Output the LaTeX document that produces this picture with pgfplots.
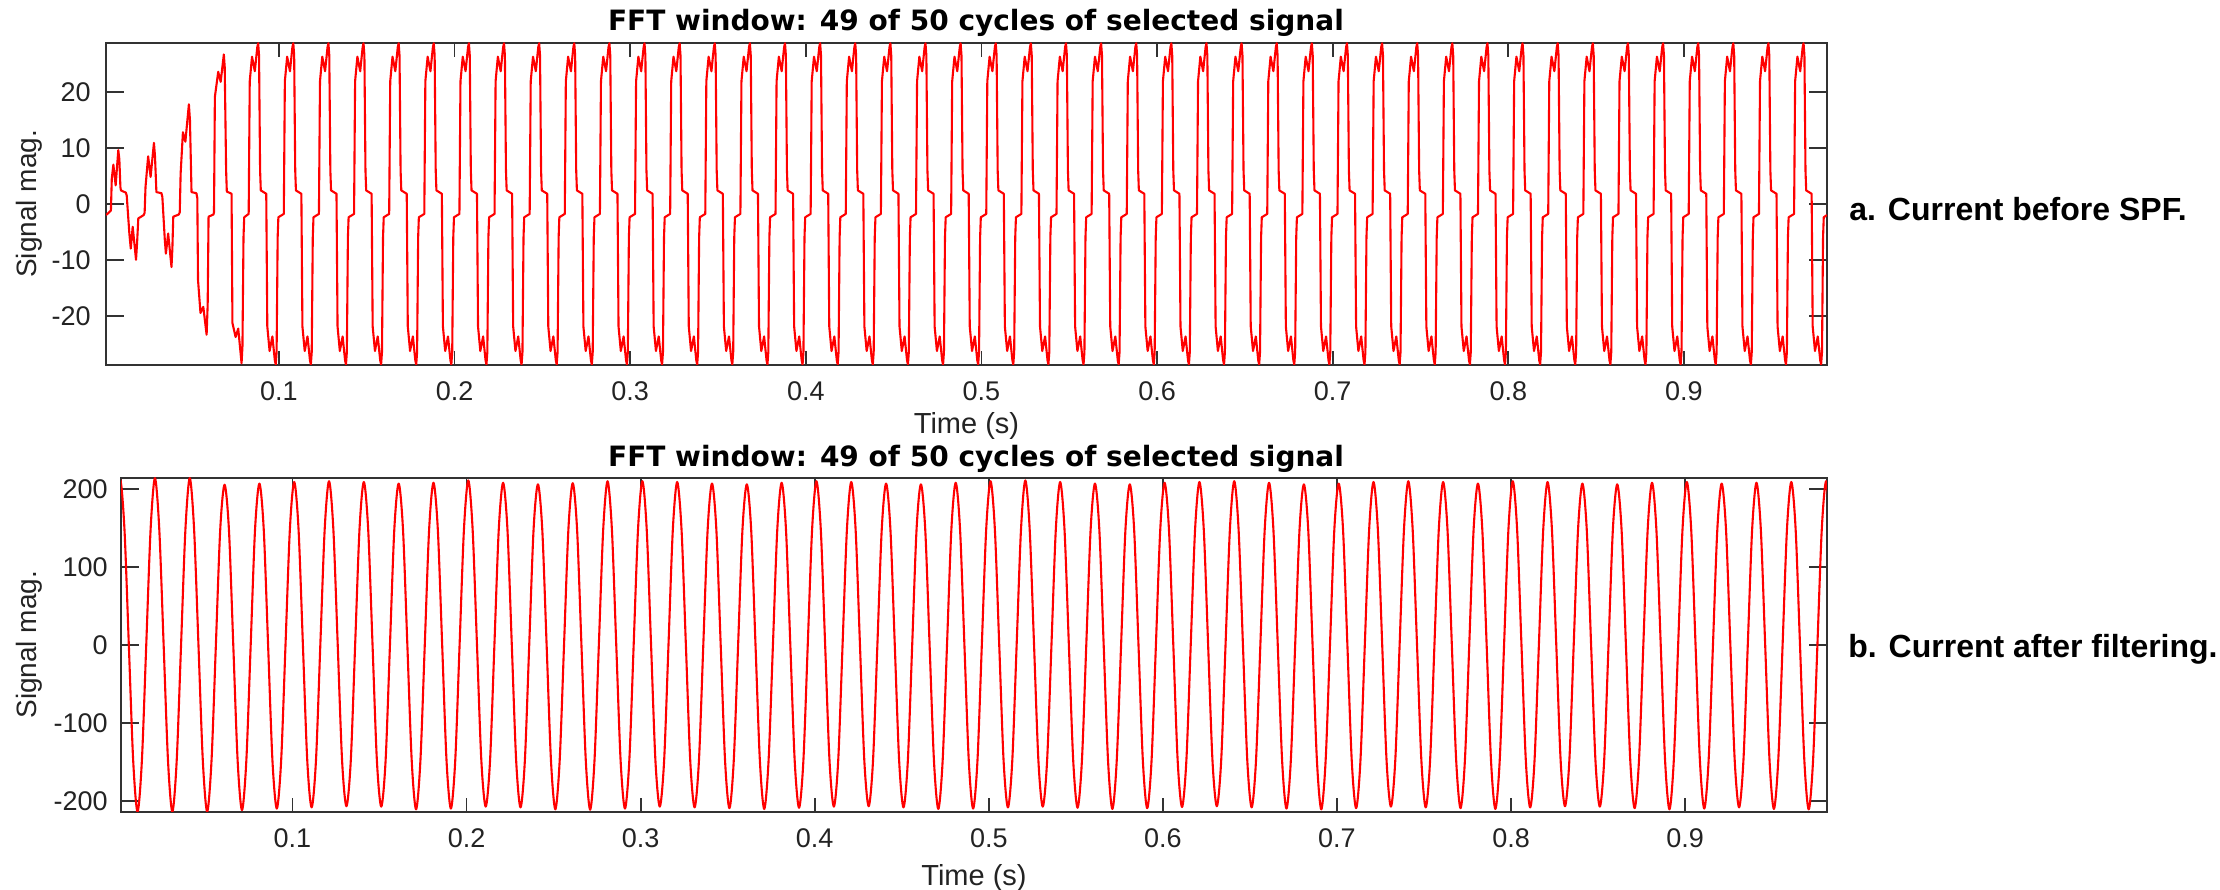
\documentclass[border=0pt]{standalone}
\usepackage{fontspec}
\setmainfont{Liberation Sans}
\newfontfamily\titlefont{DejaVu Sans}
\usepackage{pgfplots}
\pgfplotsset{compat=1.18}

\definecolor{axisgray}{RGB}{50,50,50}

\pgfplotsset{
  fftpanel/.style={
    scale only axis,
    anchor=south west,
    xmin=0.0015, xmax=0.9815,
    xtick={0.1,0.2,0.3,0.4,0.5,0.6,0.7,0.8,0.9},
    tick align=inside,
    tick pos=both,
    ticklabel pos=left,
    major tick length=9bp,
    xtick style={/pgfplots/major tick length=7bp},
    axis line style={draw=axisgray, line width=0.9bp},
    every tick/.style={draw=axisgray, line width=0.9bp},
    /pgf/number format/assume math mode=true,
    xticklabel style={font=\fontsize{13.5bp}{15bp}\selectfont, text=axisgray!70!black, anchor=base, yshift=-18bp},
    yticklabel style={font=\fontsize{13.5bp}{15bp}\selectfont, text=axisgray!70!black, anchor=east, inner sep=0pt},
    xlabel style={font=\fontsize{14.5bp}{16bp}\selectfont, text=axisgray!70!black},
    ylabel style={font=\fontsize{14bp}{16bp}\selectfont, text=axisgray!70!black},
    title style={font=\titlefont\bfseries\fontsize{14bp}{16bp}\selectfont, anchor=base},
    title={FFT window: 49 of 50 cycles of selected signal},
    xlabel={Time (s)},
    ylabel={Signal mag.},
  },
  sig/.style={red, line width=1.05bp, line join=round, mark=none},
}

\begin{document}
\begin{tikzpicture}
\useasboundingbox (0,0) rectangle (1110bp,445bp);

% ---- current before the filter ----
\begin{axis}[fftpanel,
  at={(53bp,262.5bp)}, width=860.5bp, height=161.15bp,
  ymin=-28.8, ymax=28.8,
  ytick={-20,-10,0,10,20},
  yticklabel style={xshift=-7.5bp},
  title style={at={(axis description cs:0.5055,1)}, yshift=0.35bp},
  xlabel style={at={(axis description cs:0.5,-0.189)}, anchor=center},
  ylabel style={at={(axis description cs:-0.0447,0.5)}, anchor=center},
]
\addplot[sig] coordinates {
(0.0015,-2.0)(0.0030,-1.6)(0.0043,-1.2)(0.0048,4.5)(0.0057,7.0)(0.0070,3.3)(0.0085,9.6)(0.0091,8.0)(0.0097,3.0)(0.0100,2.4)(0.0128,2.0)(0.0133,1.5)
(0.0148,-5.3)(0.0156,-8.0)(0.0167,-4.1)(0.0186,-10.0)(0.0192,-7.0)(0.0199,-2.6)(0.0230,-2.0)(0.0235,-1.6)
(0.0240,3.0)(0.0255,8.5)(0.0269,4.8)(0.0288,10.9)(0.0294,8.5)(0.0302,2.1)(0.0331,1.9)(0.0336,1.2)
(0.0350,-6.5)(0.0356,-8.9)(0.0369,-5.3)(0.0388,-11.3)(0.0393,-8.0)(0.0398,-2.3)(0.0430,-1.9)(0.0435,-1.5)
(0.0440,5.4)(0.0453,12.8)(0.0467,11.1)(0.0487,17.8)(0.0493,15.0)(0.0502,2.1)(0.0530,1.9)(0.0535,1.0)
(0.0539,-13.6)(0.0553,-19.5)(0.0569,-18.4)(0.0588,-23.4)(0.0594,-18.0)(0.0599,-2.3)(0.0627,-1.9)(0.0630,-1.5)
(0.0635,19.1)(0.0654,23.6)(0.0668,21.8)(0.0686,26.7)(0.0691,24.5)(0.0699,6.0)(0.0703,2.2)(0.0730,1.8)
(0.0735,-21.3)(0.0753,-23.8)(0.0768,-22.3)(0.0787,-28.5)(0.0792,-25.5)(0.0798,-6.0)(0.0802,-2.4)
(0.08275,-1.8)(0.08335,21.9)(0.08465,26.3)(0.08625,23.7)(0.08765,28)(0.08815,28.7)(0.08865,26.5)(0.08925,6)(0.08965,2.4)
(0.09275,1.8)(0.09335,-21.9)(0.09465,-26.3)(0.09625,-23.7)(0.09765,-28)(0.09815,-28.7)(0.09865,-26.5)(0.09925,-6)(0.09965,-2.4)
(0.10275,-1.8)(0.10335,21.9)(0.10465,26.3)(0.10625,23.7)(0.10765,28)(0.10815,28.7)(0.10865,26.5)(0.10925,6)(0.10965,2.4)
(0.11275,1.8)(0.11335,-21.9)(0.11465,-26.3)(0.11625,-23.7)(0.11765,-28)(0.11815,-28.7)(0.11865,-26.5)(0.11925,-6)(0.11965,-2.4)
(0.12275,-1.8)(0.12335,21.9)(0.12465,26.3)(0.12625,23.7)(0.12765,28)(0.12815,28.7)(0.12865,26.5)(0.12925,6)(0.12965,2.4)
(0.13275,1.8)(0.13335,-21.9)(0.13465,-26.3)(0.13625,-23.7)(0.13765,-28)(0.13815,-28.7)(0.13865,-26.5)(0.13925,-6)(0.13965,-2.4)
(0.14275,-1.8)(0.14335,21.9)(0.14465,26.3)(0.14625,23.7)(0.14765,28)(0.14815,28.7)(0.14865,26.5)(0.14925,6)(0.14965,2.4)
(0.15275,1.8)(0.15335,-21.9)(0.15465,-26.3)(0.15625,-23.7)(0.15765,-28)(0.15815,-28.7)(0.15865,-26.5)(0.15925,-6)(0.15965,-2.4)
(0.16275,-1.8)(0.16335,21.9)(0.16465,26.3)(0.16625,23.7)(0.16765,28)(0.16815,28.7)(0.16865,26.5)(0.16925,6)(0.16965,2.4)
(0.17275,1.8)(0.17335,-21.9)(0.17465,-26.3)(0.17625,-23.7)(0.17765,-28)(0.17815,-28.7)(0.17865,-26.5)(0.17925,-6)(0.17965,-2.4)
(0.18275,-1.8)(0.18335,21.9)(0.18465,26.3)(0.18625,23.7)(0.18765,28)(0.18815,28.7)(0.18865,26.5)(0.18925,6)(0.18965,2.4)
(0.19275,1.8)(0.19335,-21.9)(0.19465,-26.3)(0.19625,-23.7)(0.19765,-28)(0.19815,-28.7)(0.19865,-26.5)(0.19925,-6)(0.19965,-2.4)
(0.20275,-1.8)(0.20335,21.9)(0.20465,26.3)(0.20625,23.7)(0.20765,28)(0.20815,28.7)(0.20865,26.5)(0.20925,6)(0.20965,2.4)
(0.21275,1.8)(0.21335,-21.9)(0.21465,-26.3)(0.21625,-23.7)(0.21765,-28)(0.21815,-28.7)(0.21865,-26.5)(0.21925,-6)(0.21965,-2.4)
(0.22275,-1.8)(0.22335,21.9)(0.22465,26.3)(0.22625,23.7)(0.22765,28)(0.22815,28.7)(0.22865,26.5)(0.22925,6)(0.22965,2.4)
(0.23275,1.8)(0.23335,-21.9)(0.23465,-26.3)(0.23625,-23.7)(0.23765,-28)(0.23815,-28.7)(0.23865,-26.5)(0.23925,-6)(0.23965,-2.4)
(0.24275,-1.8)(0.24335,21.9)(0.24465,26.3)(0.24625,23.7)(0.24765,28)(0.24815,28.7)(0.24865,26.5)(0.24925,6)(0.24965,2.4)
(0.25275,1.8)(0.25335,-21.9)(0.25465,-26.3)(0.25625,-23.7)(0.25765,-28)(0.25815,-28.7)(0.25865,-26.5)(0.25925,-6)(0.25965,-2.4)
(0.26275,-1.8)(0.26335,21.9)(0.26465,26.3)(0.26625,23.7)(0.26765,28)(0.26815,28.7)(0.26865,26.5)(0.26925,6)(0.26965,2.4)
(0.27275,1.8)(0.27335,-21.9)(0.27465,-26.3)(0.27625,-23.7)(0.27765,-28)(0.27815,-28.7)(0.27865,-26.5)(0.27925,-6)(0.27965,-2.4)
(0.28275,-1.8)(0.28335,21.9)(0.28465,26.3)(0.28625,23.7)(0.28765,28)(0.28815,28.7)(0.28865,26.5)(0.28925,6)(0.28965,2.4)
(0.29275,1.8)(0.29335,-21.9)(0.29465,-26.3)(0.29625,-23.7)(0.29765,-28)(0.29815,-28.7)(0.29865,-26.5)(0.29925,-6)(0.29965,-2.4)
(0.30275,-1.8)(0.30335,21.9)(0.30465,26.3)(0.30625,23.7)(0.30765,28)(0.30815,28.7)(0.30865,26.5)(0.30925,6)(0.30965,2.4)
(0.31275,1.8)(0.31335,-21.9)(0.31465,-26.3)(0.31625,-23.7)(0.31765,-28)(0.31815,-28.7)(0.31865,-26.5)(0.31925,-6)(0.31965,-2.4)
(0.32275,-1.8)(0.32335,21.9)(0.32465,26.3)(0.32625,23.7)(0.32765,28)(0.32815,28.7)(0.32865,26.5)(0.32925,6)(0.32965,2.4)
(0.33275,1.8)(0.33335,-21.9)(0.33465,-26.3)(0.33625,-23.7)(0.33765,-28)(0.33815,-28.7)(0.33865,-26.5)(0.33925,-6)(0.33965,-2.4)
(0.34275,-1.8)(0.34335,21.9)(0.34465,26.3)(0.34625,23.7)(0.34765,28)(0.34815,28.7)(0.34865,26.5)(0.34925,6)(0.34965,2.4)
(0.35275,1.8)(0.35335,-21.9)(0.35465,-26.3)(0.35625,-23.7)(0.35765,-28)(0.35815,-28.7)(0.35865,-26.5)(0.35925,-6)(0.35965,-2.4)
(0.36275,-1.8)(0.36335,21.9)(0.36465,26.3)(0.36625,23.7)(0.36765,28)(0.36815,28.7)(0.36865,26.5)(0.36925,6)(0.36965,2.4)
(0.37275,1.8)(0.37335,-21.9)(0.37465,-26.3)(0.37625,-23.7)(0.37765,-28)(0.37815,-28.7)(0.37865,-26.5)(0.37925,-6)(0.37965,-2.4)
(0.38275,-1.8)(0.38335,21.9)(0.38465,26.3)(0.38625,23.7)(0.38765,28)(0.38815,28.7)(0.38865,26.5)(0.38925,6)(0.38965,2.4)
(0.39275,1.8)(0.39335,-21.9)(0.39465,-26.3)(0.39625,-23.7)(0.39765,-28)(0.39815,-28.7)(0.39865,-26.5)(0.39925,-6)(0.39965,-2.4)
(0.40275,-1.8)(0.40335,21.9)(0.40465,26.3)(0.40625,23.7)(0.40765,28)(0.40815,28.7)(0.40865,26.5)(0.40925,6)(0.40965,2.4)
(0.41275,1.8)(0.41335,-21.9)(0.41465,-26.3)(0.41625,-23.7)(0.41765,-28)(0.41815,-28.7)(0.41865,-26.5)(0.41925,-6)(0.41965,-2.4)
(0.42275,-1.8)(0.42335,21.9)(0.42465,26.3)(0.42625,23.7)(0.42765,28)(0.42815,28.7)(0.42865,26.5)(0.42925,6)(0.42965,2.4)
(0.43275,1.8)(0.43335,-21.9)(0.43465,-26.3)(0.43625,-23.7)(0.43765,-28)(0.43815,-28.7)(0.43865,-26.5)(0.43925,-6)(0.43965,-2.4)
(0.44275,-1.8)(0.44335,21.9)(0.44465,26.3)(0.44625,23.7)(0.44765,28)(0.44815,28.7)(0.44865,26.5)(0.44925,6)(0.44965,2.4)
(0.45275,1.8)(0.45335,-21.9)(0.45465,-26.3)(0.45625,-23.7)(0.45765,-28)(0.45815,-28.7)(0.45865,-26.5)(0.45925,-6)(0.45965,-2.4)
(0.46275,-1.8)(0.46335,21.9)(0.46465,26.3)(0.46625,23.7)(0.46765,28)(0.46815,28.7)(0.46865,26.5)(0.46925,6)(0.46965,2.4)
(0.47275,1.8)(0.47335,-21.9)(0.47465,-26.3)(0.47625,-23.7)(0.47765,-28)(0.47815,-28.7)(0.47865,-26.5)(0.47925,-6)(0.47965,-2.4)
(0.48275,-1.8)(0.48335,21.9)(0.48465,26.3)(0.48625,23.7)(0.48765,28)(0.48815,28.7)(0.48865,26.5)(0.48925,6)(0.48965,2.4)
(0.49275,1.8)(0.49335,-21.9)(0.49465,-26.3)(0.49625,-23.7)(0.49765,-28)(0.49815,-28.7)(0.49865,-26.5)(0.49925,-6)(0.49965,-2.4)
(0.50275,-1.8)(0.50335,21.9)(0.50465,26.3)(0.50625,23.7)(0.50765,28)(0.50815,28.7)(0.50865,26.5)(0.50925,6)(0.50965,2.4)
(0.51275,1.8)(0.51335,-21.9)(0.51465,-26.3)(0.51625,-23.7)(0.51765,-28)(0.51815,-28.7)(0.51865,-26.5)(0.51925,-6)(0.51965,-2.4)
(0.52275,-1.8)(0.52335,21.9)(0.52465,26.3)(0.52625,23.7)(0.52765,28)(0.52815,28.7)(0.52865,26.5)(0.52925,6)(0.52965,2.4)
(0.53275,1.8)(0.53335,-21.9)(0.53465,-26.3)(0.53625,-23.7)(0.53765,-28)(0.53815,-28.7)(0.53865,-26.5)(0.53925,-6)(0.53965,-2.4)
(0.54275,-1.8)(0.54335,21.9)(0.54465,26.3)(0.54625,23.7)(0.54765,28)(0.54815,28.7)(0.54865,26.5)(0.54925,6)(0.54965,2.4)
(0.55275,1.8)(0.55335,-21.9)(0.55465,-26.3)(0.55625,-23.7)(0.55765,-28)(0.55815,-28.7)(0.55865,-26.5)(0.55925,-6)(0.55965,-2.4)
(0.56275,-1.8)(0.56335,21.9)(0.56465,26.3)(0.56625,23.7)(0.56765,28)(0.56815,28.7)(0.56865,26.5)(0.56925,6)(0.56965,2.4)
(0.57275,1.8)(0.57335,-21.9)(0.57465,-26.3)(0.57625,-23.7)(0.57765,-28)(0.57815,-28.7)(0.57865,-26.5)(0.57925,-6)(0.57965,-2.4)
(0.58275,-1.8)(0.58335,21.9)(0.58465,26.3)(0.58625,23.7)(0.58765,28)(0.58815,28.7)(0.58865,26.5)(0.58925,6)(0.58965,2.4)
(0.59275,1.8)(0.59335,-21.9)(0.59465,-26.3)(0.59625,-23.7)(0.59765,-28)(0.59815,-28.7)(0.59865,-26.5)(0.59925,-6)(0.59965,-2.4)
(0.60275,-1.8)(0.60335,21.9)(0.60465,26.3)(0.60625,23.7)(0.60765,28)(0.60815,28.7)(0.60865,26.5)(0.60925,6)(0.60965,2.4)
(0.61275,1.8)(0.61335,-21.9)(0.61465,-26.3)(0.61625,-23.7)(0.61765,-28)(0.61815,-28.7)(0.61865,-26.5)(0.61925,-6)(0.61965,-2.4)
(0.62275,-1.8)(0.62335,21.9)(0.62465,26.3)(0.62625,23.7)(0.62765,28)(0.62815,28.7)(0.62865,26.5)(0.62925,6)(0.62965,2.4)
(0.63275,1.8)(0.63335,-21.9)(0.63465,-26.3)(0.63625,-23.7)(0.63765,-28)(0.63815,-28.7)(0.63865,-26.5)(0.63925,-6)(0.63965,-2.4)
(0.64275,-1.8)(0.64335,21.9)(0.64465,26.3)(0.64625,23.7)(0.64765,28)(0.64815,28.7)(0.64865,26.5)(0.64925,6)(0.64965,2.4)
(0.65275,1.8)(0.65335,-21.9)(0.65465,-26.3)(0.65625,-23.7)(0.65765,-28)(0.65815,-28.7)(0.65865,-26.5)(0.65925,-6)(0.65965,-2.4)
(0.66275,-1.8)(0.66335,21.9)(0.66465,26.3)(0.66625,23.7)(0.66765,28)(0.66815,28.7)(0.66865,26.5)(0.66925,6)(0.66965,2.4)
(0.67275,1.8)(0.67335,-21.9)(0.67465,-26.3)(0.67625,-23.7)(0.67765,-28)(0.67815,-28.7)(0.67865,-26.5)(0.67925,-6)(0.67965,-2.4)
(0.68275,-1.8)(0.68335,21.9)(0.68465,26.3)(0.68625,23.7)(0.68765,28)(0.68815,28.7)(0.68865,26.5)(0.68925,6)(0.68965,2.4)
(0.69275,1.8)(0.69335,-21.9)(0.69465,-26.3)(0.69625,-23.7)(0.69765,-28)(0.69815,-28.7)(0.69865,-26.5)(0.69925,-6)(0.69965,-2.4)
(0.70275,-1.8)(0.70335,21.9)(0.70465,26.3)(0.70625,23.7)(0.70765,28)(0.70815,28.7)(0.70865,26.5)(0.70925,6)(0.70965,2.4)
(0.71275,1.8)(0.71335,-21.9)(0.71465,-26.3)(0.71625,-23.7)(0.71765,-28)(0.71815,-28.7)(0.71865,-26.5)(0.71925,-6)(0.71965,-2.4)
(0.72275,-1.8)(0.72335,21.9)(0.72465,26.3)(0.72625,23.7)(0.72765,28)(0.72815,28.7)(0.72865,26.5)(0.72925,6)(0.72965,2.4)
(0.73275,1.8)(0.73335,-21.9)(0.73465,-26.3)(0.73625,-23.7)(0.73765,-28)(0.73815,-28.7)(0.73865,-26.5)(0.73925,-6)(0.73965,-2.4)
(0.74275,-1.8)(0.74335,21.9)(0.74465,26.3)(0.74625,23.7)(0.74765,28)(0.74815,28.7)(0.74865,26.5)(0.74925,6)(0.74965,2.4)
(0.75275,1.8)(0.75335,-21.9)(0.75465,-26.3)(0.75625,-23.7)(0.75765,-28)(0.75815,-28.7)(0.75865,-26.5)(0.75925,-6)(0.75965,-2.4)
(0.76275,-1.8)(0.76335,21.9)(0.76465,26.3)(0.76625,23.7)(0.76765,28)(0.76815,28.7)(0.76865,26.5)(0.76925,6)(0.76965,2.4)
(0.77275,1.8)(0.77335,-21.9)(0.77465,-26.3)(0.77625,-23.7)(0.77765,-28)(0.77815,-28.7)(0.77865,-26.5)(0.77925,-6)(0.77965,-2.4)
(0.78275,-1.8)(0.78335,21.9)(0.78465,26.3)(0.78625,23.7)(0.78765,28)(0.78815,28.7)(0.78865,26.5)(0.78925,6)(0.78965,2.4)
(0.79275,1.8)(0.79335,-21.9)(0.79465,-26.3)(0.79625,-23.7)(0.79765,-28)(0.79815,-28.7)(0.79865,-26.5)(0.79925,-6)(0.79965,-2.4)
(0.80275,-1.8)(0.80335,21.9)(0.80465,26.3)(0.80625,23.7)(0.80765,28)(0.80815,28.7)(0.80865,26.5)(0.80925,6)(0.80965,2.4)
(0.81275,1.8)(0.81335,-21.9)(0.81465,-26.3)(0.81625,-23.7)(0.81765,-28)(0.81815,-28.7)(0.81865,-26.5)(0.81925,-6)(0.81965,-2.4)
(0.82275,-1.8)(0.82335,21.9)(0.82465,26.3)(0.82625,23.7)(0.82765,28)(0.82815,28.7)(0.82865,26.5)(0.82925,6)(0.82965,2.4)
(0.83275,1.8)(0.83335,-21.9)(0.83465,-26.3)(0.83625,-23.7)(0.83765,-28)(0.83815,-28.7)(0.83865,-26.5)(0.83925,-6)(0.83965,-2.4)
(0.84275,-1.8)(0.84335,21.9)(0.84465,26.3)(0.84625,23.7)(0.84765,28)(0.84815,28.7)(0.84865,26.5)(0.84925,6)(0.84965,2.4)
(0.85275,1.8)(0.85335,-21.9)(0.85465,-26.3)(0.85625,-23.7)(0.85765,-28)(0.85815,-28.7)(0.85865,-26.5)(0.85925,-6)(0.85965,-2.4)
(0.86275,-1.8)(0.86335,21.9)(0.86465,26.3)(0.86625,23.7)(0.86765,28)(0.86815,28.7)(0.86865,26.5)(0.86925,6)(0.86965,2.4)
(0.87275,1.8)(0.87335,-21.9)(0.87465,-26.3)(0.87625,-23.7)(0.87765,-28)(0.87815,-28.7)(0.87865,-26.5)(0.87925,-6)(0.87965,-2.4)
(0.88275,-1.8)(0.88335,21.9)(0.88465,26.3)(0.88625,23.7)(0.88765,28)(0.88815,28.7)(0.88865,26.5)(0.88925,6)(0.88965,2.4)
(0.89275,1.8)(0.89335,-21.9)(0.89465,-26.3)(0.89625,-23.7)(0.89765,-28)(0.89815,-28.7)(0.89865,-26.5)(0.89925,-6)(0.89965,-2.4)
(0.90275,-1.8)(0.90335,21.9)(0.90465,26.3)(0.90625,23.7)(0.90765,28)(0.90815,28.7)(0.90865,26.5)(0.90925,6)(0.90965,2.4)
(0.91275,1.8)(0.91335,-21.9)(0.91465,-26.3)(0.91625,-23.7)(0.91765,-28)(0.91815,-28.7)(0.91865,-26.5)(0.91925,-6)(0.91965,-2.4)
(0.92275,-1.8)(0.92335,21.9)(0.92465,26.3)(0.92625,23.7)(0.92765,28)(0.92815,28.7)(0.92865,26.5)(0.92925,6)(0.92965,2.4)
(0.93275,1.8)(0.93335,-21.9)(0.93465,-26.3)(0.93625,-23.7)(0.93765,-28)(0.93815,-28.7)(0.93865,-26.5)(0.93925,-6)(0.93965,-2.4)
(0.94275,-1.8)(0.94335,21.9)(0.94465,26.3)(0.94625,23.7)(0.94765,28)(0.94815,28.7)(0.94865,26.5)(0.94925,6)(0.94965,2.4)
(0.95275,1.8)(0.95335,-21.9)(0.95465,-26.3)(0.95625,-23.7)(0.95765,-28)(0.95815,-28.7)(0.95865,-26.5)(0.95925,-6)(0.95965,-2.4)
(0.96275,-1.8)(0.96335,21.9)(0.96465,26.3)(0.96625,23.7)(0.96765,28)(0.96815,28.7)(0.96865,26.5)(0.96925,6)(0.96965,2.4)
(0.97275,1.8)(0.97335,-21.9)(0.97465,-26.3)(0.97625,-23.7)(0.97765,-28)(0.97815,-28.7)(0.97865,-26.5)(0.97925,-6)(0.97965,-2.4)
(0.9815,-2.0)
};
\end{axis}

% ---- current after the filter ----
\begin{axis}[fftpanel,
  at={(60.5bp,39.15bp)}, width=853bp, height=167bp,
  ymin=-213.5, ymax=214.5,
  ytick={-200,-100,0,100,200},
  yticklabel style={xshift=-6.5bp},
  title style={at={(axis description cs:0.5012,1)}, yshift=-0.5bp},
  xlabel style={at={(axis description cs:0.5,-0.1985)}, anchor=center},
  ylabel style={at={(axis description cs:-0.0539,0.5)}, anchor=center},
]
\addplot[sig, smooth] coordinates {
(-0.0015,148)
(0.001,212)(0.0035,148)(0.006,0)(0.0085,-148)
(0.011,-213.5)(0.0135,-148)(0.016,0)(0.0185,148)
(0.021,214)(0.0235,148)(0.026,0)(0.0285,-148)
(0.031,-213.5)(0.0335,-148)(0.036,0)(0.0385,148)
(0.041,214)(0.0435,148)(0.046,0)(0.0485,-148)
(0.051,-213.5)(0.0535,-148)(0.056,0)(0.0585,148)
(0.061,205.5)(0.0635,148)(0.066,0)(0.0685,-148)
(0.071,-211.5)(0.0735,-148)(0.076,0)(0.0785,148)
(0.081,207)(0.0835,148)(0.086,0)(0.0885,-148)
(0.091,-209.5)(0.0935,-148)(0.096,0)(0.0985,148)
(0.101,209)(0.1035,148)(0.106,0)(0.1085,-148)
(0.111,-208)(0.1135,-148)(0.116,0)(0.1185,148)
(0.121,210)(0.1235,148)(0.126,0)(0.1285,-148)
(0.131,-206.5)(0.1335,-148)(0.136,0)(0.1385,148)
(0.141,209)(0.1435,148)(0.146,0)(0.1485,-148)
(0.151,-207)(0.1535,-148)(0.156,0)(0.1585,148)
(0.161,207)(0.1635,148)(0.166,0)(0.1685,-148)
(0.171,-210.5)(0.1735,-148)(0.176,0)(0.1785,148)
(0.181,208)(0.1835,148)(0.186,0)(0.1885,-148)
(0.191,-209.5)(0.1935,-148)(0.196,0)(0.1985,148)
(0.201,211)(0.2035,148)(0.206,0)(0.2085,-148)
(0.211,-207)(0.2135,-148)(0.216,0)(0.2185,148)
(0.221,208)(0.2235,148)(0.226,0)(0.2285,-148)
(0.231,-208)(0.2335,-148)(0.236,0)(0.2385,148)
(0.241,206)(0.2435,148)(0.246,0)(0.2485,-148)
(0.251,-210.5)(0.2535,-148)(0.256,0)(0.2585,148)
(0.261,207.5)(0.2635,148)(0.266,0)(0.2685,-148)
(0.271,-211)(0.2735,-148)(0.276,0)(0.2785,148)
(0.281,210)(0.2835,148)(0.286,0)(0.2885,-148)
(0.291,-209.5)(0.2935,-148)(0.296,0)(0.2985,148)
(0.301,210)(0.3035,148)(0.306,0)(0.3085,-148)
(0.311,-207)(0.3135,-148)(0.316,0)(0.3185,148)
(0.321,209)(0.3235,148)(0.326,0)(0.3285,-148)
(0.331,-208)(0.3335,-148)(0.336,0)(0.3385,148)
(0.341,207)(0.3435,148)(0.346,0)(0.3485,-148)
(0.351,-209)(0.3535,-148)(0.356,0)(0.3585,148)
(0.361,206)(0.3635,148)(0.366,0)(0.3685,-148)
(0.371,-210)(0.3735,-148)(0.376,0)(0.3785,148)
(0.381,208)(0.3835,148)(0.386,0)(0.3885,-148)
(0.391,-208.5)(0.3935,-148)(0.396,0)(0.3985,148)
(0.401,210)(0.4035,148)(0.406,0)(0.4085,-148)
(0.411,-207)(0.4135,-148)(0.416,0)(0.4185,148)
(0.421,209)(0.4235,148)(0.426,0)(0.4285,-148)
(0.431,-206.5)(0.4335,-148)(0.436,0)(0.4385,148)
(0.441,207)(0.4435,148)(0.446,0)(0.4485,-148)
(0.451,-208)(0.4535,-148)(0.456,0)(0.4585,148)
(0.461,206)(0.4635,148)(0.466,0)(0.4685,-148)
(0.471,-210)(0.4735,-148)(0.476,0)(0.4785,148)
(0.481,208)(0.4835,148)(0.486,0)(0.4885,-148)
(0.491,-209.5)(0.4935,-148)(0.496,0)(0.4985,148)
(0.501,210)(0.5035,148)(0.506,0)(0.5085,-148)
(0.511,-208)(0.5135,-148)(0.516,0)(0.5185,148)
(0.521,211)(0.5235,148)(0.526,0)(0.5285,-148)
(0.531,-207)(0.5335,-148)(0.536,0)(0.5385,148)
(0.541,209)(0.5435,148)(0.546,0)(0.5485,-148)
(0.551,-208.5)(0.5535,-148)(0.556,0)(0.5585,148)
(0.561,207)(0.5635,148)(0.566,0)(0.5685,-148)
(0.571,-210)(0.5735,-148)(0.576,0)(0.5785,148)
(0.581,206)(0.5835,148)(0.586,0)(0.5885,-148)
(0.591,-209)(0.5935,-148)(0.596,0)(0.5985,148)
(0.601,208)(0.6035,148)(0.606,0)(0.6085,-148)
(0.611,-207.5)(0.6135,-148)(0.616,0)(0.6185,148)
(0.621,209)(0.6235,148)(0.626,0)(0.6285,-148)
(0.631,-206.5)(0.6335,-148)(0.636,0)(0.6385,148)
(0.641,210)(0.6435,148)(0.646,0)(0.6485,-148)
(0.651,-208)(0.6535,-148)(0.656,0)(0.6585,148)
(0.661,208)(0.6635,148)(0.666,0)(0.6685,-148)
(0.671,-209.5)(0.6735,-148)(0.676,0)(0.6785,148)
(0.681,206)(0.6835,148)(0.686,0)(0.6885,-148)
(0.691,-210.5)(0.6935,-148)(0.696,0)(0.6985,148)
(0.701,207)(0.7035,148)(0.706,0)(0.7085,-148)
(0.711,-209)(0.7135,-148)(0.716,0)(0.7185,148)
(0.721,209)(0.7235,148)(0.726,0)(0.7285,-148)
(0.731,-207)(0.7335,-148)(0.736,0)(0.7385,148)
(0.741,210)(0.7435,148)(0.746,0)(0.7485,-148)
(0.751,-208)(0.7535,-148)(0.756,0)(0.7585,148)
(0.761,209)(0.7635,148)(0.766,0)(0.7685,-148)
(0.771,-209)(0.7735,-148)(0.776,0)(0.7785,148)
(0.781,207)(0.7835,148)(0.786,0)(0.7885,-148)
(0.791,-210)(0.7935,-148)(0.796,0)(0.7985,148)
(0.801,210)(0.8035,148)(0.806,0)(0.8085,-148)
(0.811,-208)(0.8135,-148)(0.816,0)(0.8185,148)
(0.821,209)(0.8235,148)(0.826,0)(0.8285,-148)
(0.831,-206.5)(0.8335,-148)(0.836,0)(0.8385,148)
(0.841,207)(0.8435,148)(0.846,0)(0.8485,-148)
(0.851,-207)(0.8535,-148)(0.856,0)(0.8585,148)
(0.861,206)(0.8635,148)(0.866,0)(0.8685,-148)
(0.871,-209)(0.8735,-148)(0.876,0)(0.8785,148)
(0.881,208)(0.8835,148)(0.886,0)(0.8885,-148)
(0.891,-210.5)(0.8935,-148)(0.896,0)(0.8985,148)
(0.901,209)(0.9035,148)(0.906,0)(0.9085,-148)
(0.911,-209.5)(0.9135,-148)(0.916,0)(0.9185,148)
(0.921,207)(0.9235,148)(0.926,0)(0.9285,-148)
(0.931,-208)(0.9335,-148)(0.936,0)(0.9385,148)
(0.941,208)(0.9435,148)(0.946,0)(0.9485,-148)
(0.951,-210)(0.9535,-148)(0.956,0)(0.9585,148)
(0.961,209)(0.9635,148)(0.966,0)(0.9685,-148)
(0.971,-210.5)(0.9735,-148)(0.976,0)(0.9785,148)
(0.981,210)(0.9835,148)
};
\end{axis}

% panel captions
\node[anchor=base west, inner sep=0pt, font=\bfseries\fontsize{16bp}{18bp}\selectfont] at (924.5bp,334.5bp) {a. Current before SPF.};
\node[anchor=base west, inner sep=0pt, font=\bfseries\fontsize{16bp}{18bp}\selectfont] at (924bp,116bp) {b. Current after filtering.};
\end{tikzpicture}
\end{document}
